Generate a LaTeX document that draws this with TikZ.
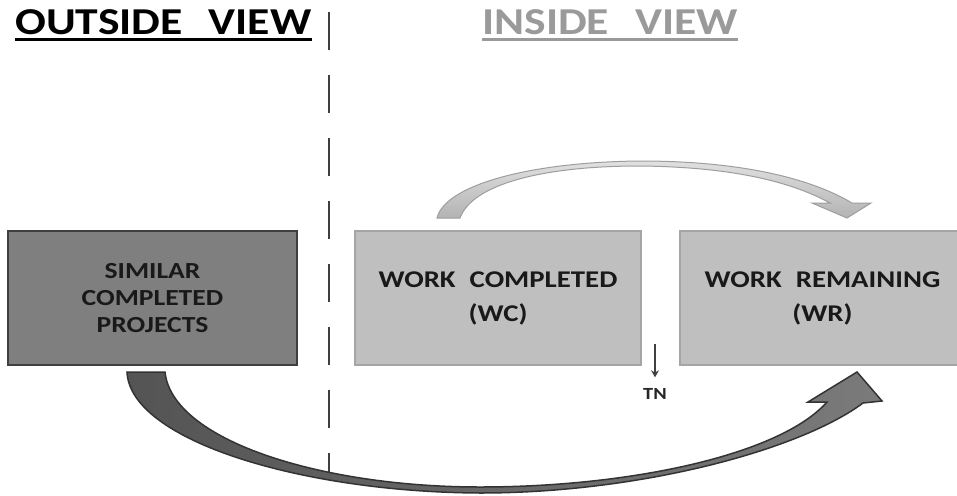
\documentclass[tikz,border=0pt]{standalone}
\usepackage{fontspec}
\setmainfont{Carlito}[FakeStretch=1.2]
\usetikzlibrary{arrows.meta}
\definecolor{darkfill}{HTML}{7F7F7F}
\definecolor{darkedge}{HTML}{3F3F3F}
\definecolor{lightfill}{HTML}{BFBFBF}
\definecolor{lightedge}{HTML}{A5A5A5}
\definecolor{titlegray}{HTML}{9A9A9A}
\begin{document}
\begin{tikzpicture}[x=1pt,y=-1pt]
        \tikzset{
        title/.style={anchor=base west, inner sep=0, font=\fontsize{38}{40}\selectfont\bfseries},
        uline/.style={line width=3pt},
        darkbox/.style={rectangle, minimum width=289pt, minimum height=134pt,
        fill=darkfill, draw=darkedge, line width=2pt, align=center,
        font=\fontsize{23}{27}\selectfont\bfseries, text=black!90},
        lightbox/.style={rectangle, minimum width=286pt, minimum height=134pt,
        fill=lightfill, draw=lightedge, line width=2pt, align=center,
        font=\fontsize{24}{34}\selectfont\bfseries, text=black!90},
        divider/.style={darkedge, line width=2.5pt, dash pattern=on 38pt off 25pt},
        bigarrow/.style={draw=black!80, line width=1.5pt, left color=black!67, right color=black!52},
        toparrow/.style={draw=black!38, line width=1pt, top color=black!12, bottom color=black!30},
        tnarrow/.style={-{Stealth[length=7pt,width=8pt]}, black!75, line width=2pt}
        }
        \useasboundingbox (0,0) rectangle (957,495);
        \fill[white] (0,0) rectangle (957,495);

        % divider between the two views
        \coordinate (d1) at (329,12);
        \coordinate (d2) at (329,472);
        \draw[divider] (d1) -- (d2);

        % titles
        \node[title] (outv) at (15,35) {OUTSIDE\hspace{26pt}VIEW};
        \node[title, text=titlegray] (insv) at (482,35) {INSIDE\hspace{26pt}VIEW};
        \draw[uline] ([yshift=-5pt]outv.base west) -- ([yshift=-5pt]outv.base east);
        \draw[uline, titlegray] ([yshift=-5pt]insv.base west) -- ([yshift=-5pt]insv.base east);

        % boxes
        \node[darkbox] (sim) at (152.5,298) {SIMILAR\\COMPLETED\\PROJECTS};
        \node[lightbox] (wc) at (498,298) {WORK\hspace{14pt}COMPLETED\\(WC)};
        \node[lightbox] (wr) at (822.5,298) {WORK\hspace{14pt}REMAINING\\(WR)};

        % arrow from work completed to work remaining
        \path[toparrow] (437,218) .. controls (445,185) and (530,162) .. (640,161)
          .. controls (740,161) and (810,178) .. (852,203)
          -- (871,203) -- (847,218) -- (812,203) -- (830,203)
          .. controls (790,181) and (730,167) .. (640,166)
          .. controls (540,166) and (472,185) .. (460,218) -- cycle;

        % arrow from similar projects to work remaining
        \path[bigarrow] (127,372) .. controls (130,440) and (300,492) .. (480,493)
          .. controls (640,493) and (800,450) .. (863,403)
          -- (882,401) -- (857,372) -- (808,402) -- (827,402)
          .. controls (780,455) and (630,487) .. (480,487)
          .. controls (320,487) and (172,440) .. (165,372) -- cycle;

        % TN marker
        \coordinate (tntop) at (655,344);
        \node[font=\fontsize{17}{17}\selectfont\bfseries, text=black!85, inner sep=1pt] (tn) at (655,394) {TN};
        \draw[tnarrow] (tntop) -- ([yshift=10pt]tn.north);
\end{tikzpicture}
\end{document}
